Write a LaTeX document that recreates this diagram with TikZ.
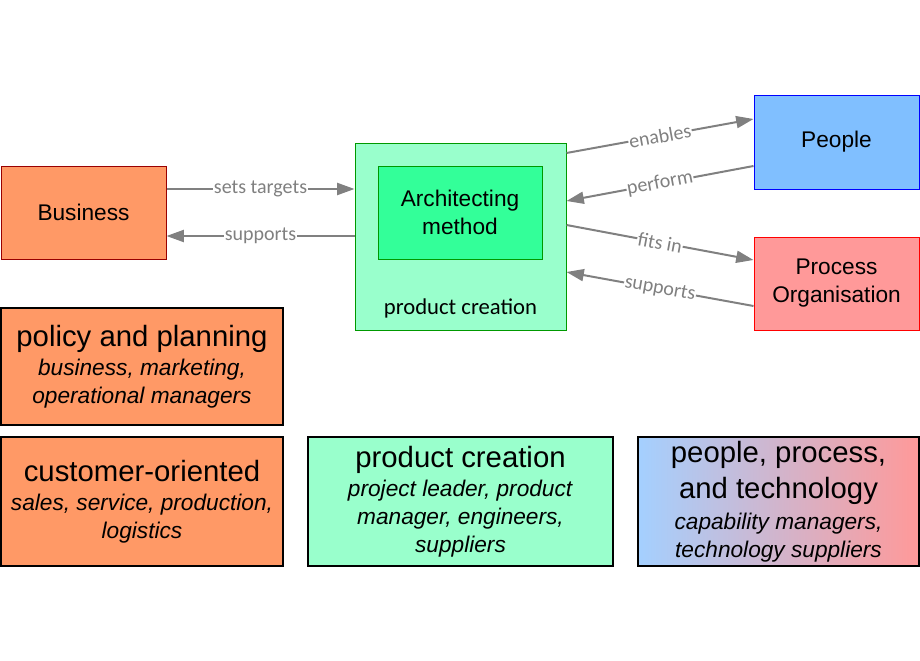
\documentclass[tikz,border=0pt]{standalone}
\usepackage{fontspec}
\setmainfont{Liberation Sans}
\newfontfamily\calibri{Carlito}
\definecolor{bizorange}{HTML}{FF9966}
\definecolor{bizborder}{HTML}{990000}
\definecolor{pcgreen}{HTML}{99FFCC}
\definecolor{pcborder}{HTML}{009900}
\definecolor{amgreen}{HTML}{33FF99}
\definecolor{pplblue}{HTML}{80BFFF}
\definecolor{procred}{HTML}{FF9999}
\definecolor{gradblue}{HTML}{A4D0FF}
\definecolor{arrgray}{HTML}{808080}
\usetikzlibrary{arrows.meta, positioning}

\begin{document}
\begin{tikzpicture}[x=0.75pt, y=-0.75pt, >={Triangle[length=13pt, width=9pt]},
    box/.style={draw, inner sep=0pt, align=center,
      font=\fontsize{17}{21}\selectfont},
    arr/.style={->, arrgray, line width=1.5pt},
    lbl/.style={fill=white, inner sep=0.5pt, sloped, midway,
      font=\calibri\fontsize{15}{18}\selectfont, text=arrgray}]
  \useasboundingbox (0,0) rectangle (920,660);
  % top row
  \node[box, draw=bizborder, fill=bizorange, line width=0.75pt,
    minimum width=123.75pt, minimum height=69.75pt] (busi) at (83.5,212.5) {Business};
  \node[box, draw=pcborder, fill=pcgreen, line width=0.75pt,
    minimum width=158.25pt, minimum height=140.25pt] (prod) at (460.5,236.5) {};
  \node[box, draw=pcborder, fill=amgreen, line width=0.75pt,
    minimum width=123pt, minimum height=69.75pt] (arch) at (460,212.5) {Architecting\\method};
  \node[font=\calibri\fontsize{17}{20}\selectfont] (prodlbl) at (460.5,308) {product creation};
  \node[box, draw=blue, fill=pplblue, line width=0.75pt,
    minimum width=123.75pt, minimum height=70.5pt] (ppl) at (836.5,142) {People};
  \node[box, draw=red, fill=procred, line width=0.75pt,
    minimum width=123.75pt, minimum height=69.75pt] (proc) at (836.5,283.5) {Process\\Organisation};
  % connectors
  \draw[arr] (busi.east |- 0,189) -- (prod.west |- 0,189) node[lbl]{sets targets};
  \draw[arr] (prod.west |- 0,236) -- (busi.east |- 0,236) node[lbl]{supports};
  \draw[arr] (prod.east |- 0,153) -- (ppl.west |- 0,119) node[lbl]{enables};
  \draw[arr] (ppl.west |- 0,166) -- (prod.east |- 0,201) node[lbl]{perform};
  \draw[arr] (prod.east |- 0,225) -- (proc.west |- 0,260) node[lbl]{fits in};
  \draw[arr] (proc.west |- 0,306) -- (prod.east |- 0,272) node[lbl]{supports};
  % stakeholder boxes
  \node[box, fill=bizorange, line width=1pt,
    minimum width=211.5pt, minimum height=87.75pt] (policy) at (142,366.5)
    {{\fontsize{22}{26}\selectfont policy and planning}\\[1pt]
     \textit{business, marketing,}\\ \textit{operational managers}};
  \node[box, fill=bizorange, line width=1pt,
    minimum width=211.5pt, minimum height=96.75pt] (cust) at (142,501.5)
    {{\fontsize{22}{26}\selectfont customer-oriented}\\[1pt]
     \textit{sales, service, production,}\\ \textit{logistics}};
  \node[box, fill=pcgreen, line width=1pt,
    minimum width=228.75pt, minimum height=96.75pt] (pcbox) at (460.5,501.5)
    {{\fontsize{22}{26}\selectfont product creation}\\[1pt]
     \textit{project leader, product}\\ \textit{manager, engineers,}\\ \textit{suppliers}};
  \node[box, left color=gradblue, right color=procred, line width=1pt,
    minimum width=210.75pt, minimum height=96.75pt] (ppt) at (778.5,501.5)
    {{\fontsize{22}{26}\selectfont people, process,}\\[6pt]
     {\fontsize{22}{26}\selectfont and technology}\\[2pt]
     \textit{capability managers,}\\ \textit{technology suppliers}};
\end{tikzpicture}
\end{document}
